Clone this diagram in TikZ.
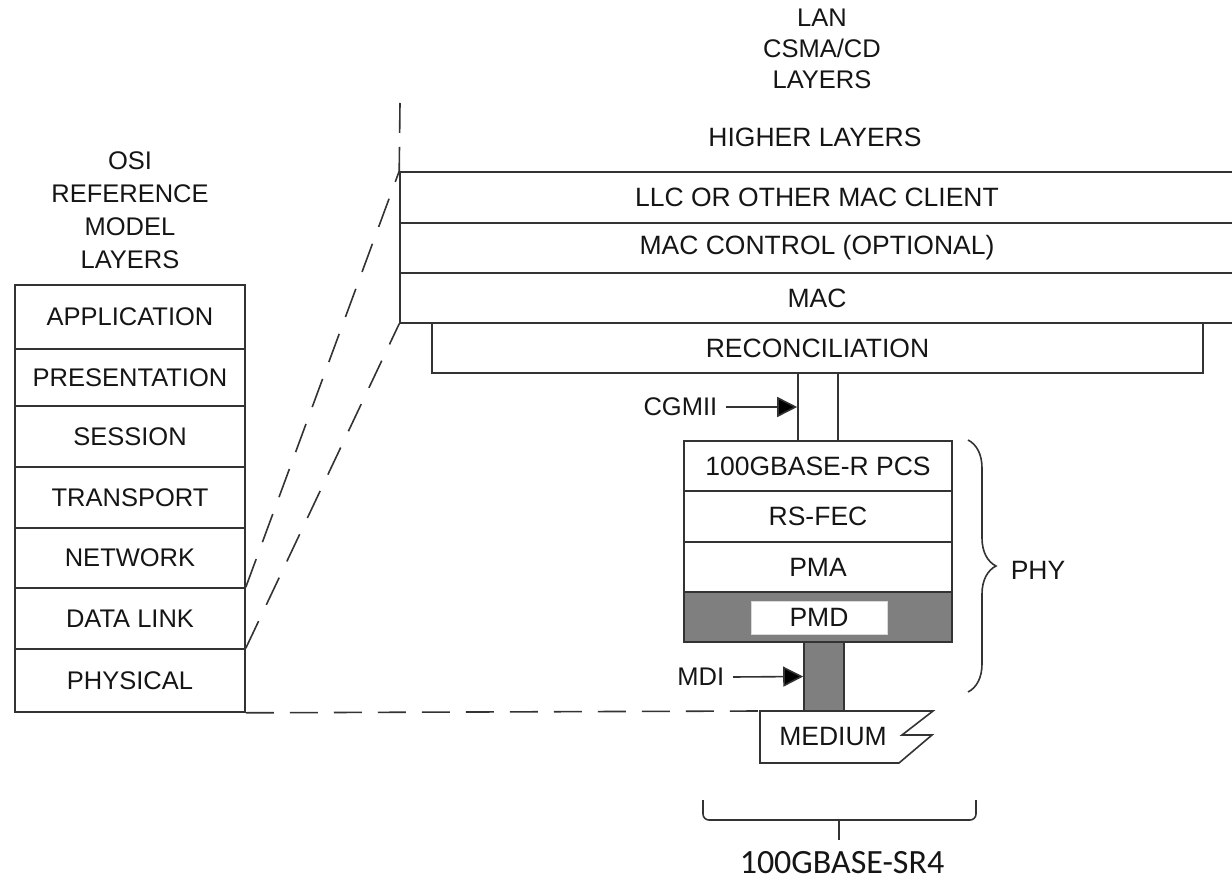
\documentclass[tikz,border=0pt]{standalone}
\usepackage{fontspec}
\setmainfont{Liberation Sans}
\newfontfamily\calfont{Carlito}
\usetikzlibrary{decorations.pathreplacing,arrows.meta}
\definecolor{lc}{HTML}{333333}
\definecolor{tc}{HTML}{151515}
\definecolor{pmdgray}{HTML}{7F7F7F}
\begin{document}
\begin{tikzpicture}[x=1pt,y=-1pt,
  line width=1.6pt, draw=lc,
  osi/.style={draw=lc, line width=1.6pt, inner sep=0pt, minimum width=230pt,
    font=\fontsize{25.5}{25.5}\selectfont, text=tc},
  lan/.style={draw=lc, line width=1.6pt, inner sep=0pt,
    font=\fontsize{26.5}{26.5}\selectfont, text=tc},
  lbl/.style={inner sep=0pt, align=center, text=tc},
  dsh/.style={draw=lc, line width=1.6pt, dash pattern=on 28pt off 16pt},
  arr/.style={draw=lc, line width=1.6pt, -{Triangle[length=20pt,width=20pt,fill=black]}}
]
\useasboundingbox (0,0) rectangle (1232,882);

% OSI stack
\node[osi, minimum height=64pt] (app)  at (130,317)   {APPLICATION};
\node[osi, minimum height=57pt] (pres) at (130,377.5) {PRESENTATION};
\node[osi, minimum height=61pt] (sess) at (130,436.5) {SESSION};
\node[osi, minimum height=61pt] (tran) at (130,497.5) {TRANSPORT};
\node[osi, minimum height=60pt] (net)  at (130,558)   {NETWORK};
\node[osi, minimum height=61pt] (dl)   at (130,618.5) {DATA LINK};
\node[osi, minimum height=63pt] (phys) at (130,680.5) {PHYSICAL};
\node[lbl, font=\fontsize{25.5}{33}\selectfont] (osilbl) at (130,210.5)
  {OSI\\REFERENCE\\MODEL\\LAYERS};

% LAN stack
\node[lbl, font=\fontsize{25.5}{31}\selectfont] (lanlbl) at (822,49)
  {LAN\\CSMA/CD\\LAYERS};
\node[lbl, font=\fontsize{26.5}{26.5}\selectfont] (higher) at (815,137) {HIGHER LAYERS};
\node[lan, minimum width=834pt, minimum height=51pt] (llc) at (817,197.5) {LLC OR OTHER MAC CLIENT};
\node[lan, minimum width=834pt, minimum height=50pt] (macc) at (817,248) {MAC CONTROL (OPTIONAL)};
\node[lan, minimum width=834pt, minimum height=50pt] (mac) at (817,298) {MAC};
\node[lan, minimum width=771pt, minimum height=50pt] (rec) at (817.5,348) {RECONCILIATION};
\node[lan, minimum width=40pt, minimum height=68pt] (cg) at (818,407) {};

% PHY stack
\node[lan, minimum width=268pt, minimum height=50pt] (pcs) at (818,466) {100GBASE-R PCS};
\node[lan, minimum width=268pt, minimum height=51pt] (fec) at (818,516.5) {RS-FEC};
\node[lan, minimum width=268pt, minimum height=50pt] (pma) at (818,567) {PMA};
\node[lan, fill=pmdgray, minimum width=268pt, minimum height=50pt] (pmd) at (818,617) {};
\node[lan, draw=white!85!black, line width=0.6pt, fill=white, minimum width=136pt, minimum height=33pt] (pmdin) at (819,617.5) {PMD};
\node[lan, fill=pmdgray, minimum width=40pt, minimum height=69pt] (mdi) at (824,676.5) {};

% Medium
\coordinate (medtl) at (760,711);
\draw[lc, line width=1.6pt] (medtl) -- (933,711) -- (902,735) -- (932,735) -- (899,763) -- (760,763) -- cycle;
\node[lbl, font=\fontsize{26.5}{26.5}\selectfont] (medium) at (833,737) {MEDIUM};

% labels with arrows
\node[lbl, font=\fontsize{25.5}{25.5}\selectfont, anchor=east] (cgmii) at (718,407) {CGMII};
\draw[arr] (cgmii.east) ++(8pt,0) -- (cg.west);
\node[lbl, font=\fontsize{25.5}{25.5}\selectfont, anchor=east] (mdilbl) at (725,677) {MDI};
\draw[arr] (mdilbl.east) ++(8pt,0) -- (mdi.west);

% dashed connectors
\coordinate (vtop) at (400,103);
\draw[dsh, dash pattern=on 30pt off 14pt] (vtop) -- (llc.north west);
\draw[dsh, dash pattern=on 30pt off 18pt] (dl.north east) -- (llc.north west);
\draw[dsh, dash pattern=on 30pt off 18pt] (phys.north east) -- (mac.south west);
\draw[dsh] (phys.south east) -- (medtl);

% PHY brace
\draw[lc, line width=1.6pt, decorate, decoration={brace, amplitude=28pt}] (968,440) -- (968,692);
\node[lbl, font=\fontsize{26.5}{26.5}\selectfont, anchor=west] (phy) at (1010,570) {PHY};

% bottom brace
\coordinate (bl) at (703,800);
\coordinate (br) at (976,800);
\coordinate (bm) at (839,820);
\coordinate (btip) at (839,840);
\draw[lc, line width=1.6pt, rounded corners=6pt] (bl) |- (bm);
\draw[lc, line width=1.6pt, rounded corners=6pt] (br) |- (bm);
\draw[lc, line width=1.6pt] (bm) -- (btip);
\node[lbl, font=\calfont\fontsize{34}{34}\selectfont] (sr4) at (842,863) {100GBASE-SR4};
\end{tikzpicture}
\end{document}
